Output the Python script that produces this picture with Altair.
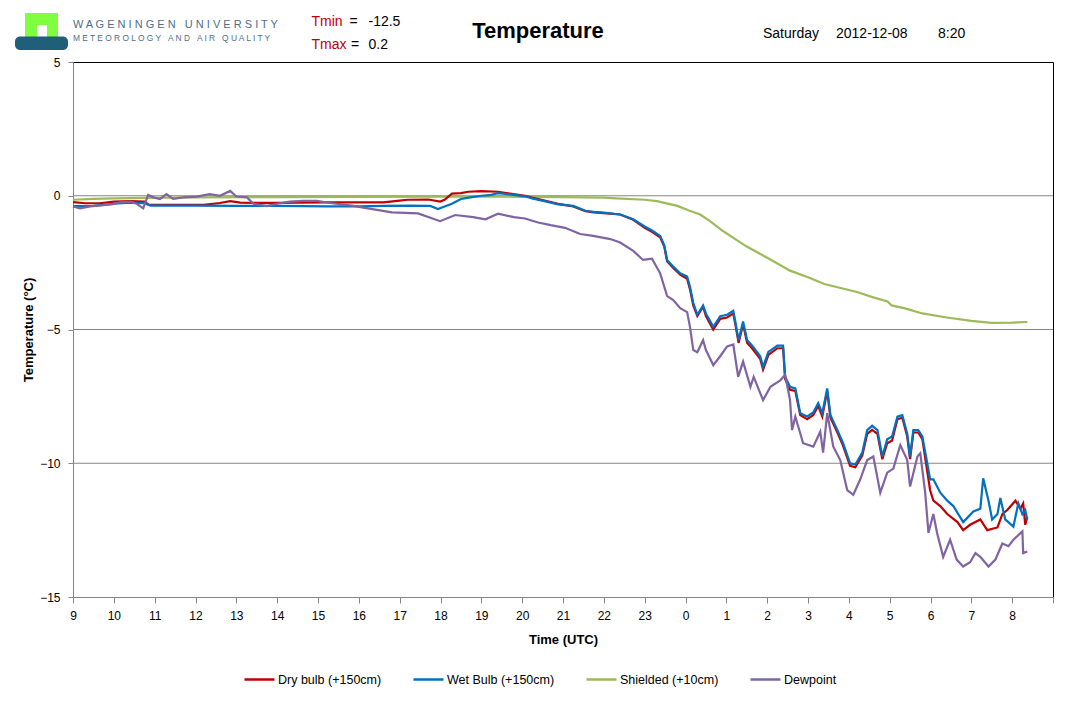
import pandas as pd
import altair as alt

FONT = "Liberation Sans"

# plot area origin on the page (used for the header / logo pieces)
X0, Y0 = 73, 62
PLOT_W, PLOT_H = 980, 535

# (hours after 09:00 UTC, temperature degC)
dry_bulb = [
    (0, -0.24), (0.3, -0.28), (0.66, -0.28), (1.0, -0.22), (1.4, -0.2), (1.75, -0.22),
    (1.85, -0.33), (2.5, -0.34), (3.2, -0.34), (3.6, -0.27), (3.85, -0.2), (4.1, -0.26),
    (4.5, -0.27), (5.0, -0.27), (5.5, -0.26), (6.2, -0.25), (7.0, -0.25), (7.6, -0.25),
    (8.0, -0.18), (8.2, -0.15), (8.7, -0.14), (8.99, -0.22), (9.1, -0.15), (9.28, 0.08),
    (9.5, 0.1), (9.68, 0.15), (10.0, 0.17), (10.41, 0.15), (10.7, 0.08), (11.07, 0.0),
    (11.24, -0.07), (11.6, -0.2), (11.88, -0.3), (12.0, -0.33), (12.25, -0.4), (12.55, -0.58),
    (12.75, -0.62), (13.0, -0.65), (13.4, -0.7), (13.72, -0.9), (14.0, -1.2), (14.18, -1.35),
    (14.38, -1.55), (14.48, -1.9), (14.55, -2.45), (14.7, -2.7), (14.87, -2.95), (15.04, -3.1),
    (15.11, -3.5), (15.19, -4.1), (15.29, -4.5), (15.43, -4.15), (15.5, -4.5), (15.68, -5.0),
    (15.85, -4.6), (16.02, -4.55), (16.17, -4.4), (16.22, -4.8), (16.3, -5.5), (16.41, -4.8),
    (16.51, -5.5), (16.63, -5.7), (16.83, -6.1), (16.9, -6.5), (17.03, -5.95), (17.25, -5.7),
    (17.39, -5.7), (17.44, -6.85), (17.56, -7.25), (17.69, -7.3), (17.81, -8.2), (17.98, -8.35),
    (18.13, -8.2), (18.25, -7.85), (18.35, -8.25), (18.47, -7.3), (18.55, -8.3), (18.72, -8.85),
    (18.86, -9.35), (19.03, -10.1), (19.16, -10.15), (19.33, -9.7), (19.45, -8.9), (19.57, -8.75),
    (19.7, -8.9), (19.82, -9.85), (19.94, -9.25), (20.06, -9.15), (20.19, -8.35), (20.31, -8.3),
    (20.43, -9.0), (20.5, -9.85), (20.58, -8.85), (20.7, -8.85), (20.8, -9.1), (20.92, -10.3),
    (20.99, -11.0), (21.07, -11.4), (21.24, -11.6), (21.41, -11.9), (21.66, -12.2), (21.8, -12.5),
    (21.97, -12.3), (22.22, -12.1), (22.39, -12.5), (22.64, -12.4), (22.76, -11.9), (22.88, -11.75),
    (23.08, -11.4), (23.2, -11.7), (23.27, -11.5), (23.32, -12.3), (23.37, -12.0),
]

wet_bulb = [
    (0, -0.39), (0.5, -0.38), (1.0, -0.3), (1.4, -0.26), (1.75, -0.28), (1.9, -0.37),
    (3.0, -0.37), (4.0, -0.38), (5.0, -0.38), (6.2, -0.4), (7.0, -0.4), (7.6, -0.38),
    (8.2, -0.37), (8.75, -0.38), (8.94, -0.5), (9.1, -0.4), (9.28, -0.3), (9.5, -0.12),
    (9.77, -0.05), (10.0, 0.0), (10.2, 0.02), (10.41, 0.1), (10.7, 0.05), (11.07, -0.02),
    (11.24, -0.1), (11.6, -0.22), (11.88, -0.32), (12.0, -0.34), (12.25, -0.38), (12.55, -0.56),
    (12.75, -0.6), (13.0, -0.63), (13.4, -0.7), (13.72, -0.88), (14.0, -1.15), (14.18, -1.3),
    (14.38, -1.5), (14.48, -1.85), (14.55, -2.4), (14.7, -2.65), (14.87, -2.9), (15.04, -3.02),
    (15.11, -3.4), (15.19, -4.0), (15.29, -4.45), (15.43, -4.1), (15.5, -4.4), (15.68, -4.9),
    (15.85, -4.5), (16.02, -4.45), (16.17, -4.3), (16.22, -4.7), (16.3, -5.4), (16.41, -4.7),
    (16.51, -5.4), (16.63, -5.6), (16.83, -6.0), (16.9, -6.4), (17.03, -5.84), (17.25, -5.6),
    (17.39, -5.6), (17.44, -6.77), (17.56, -7.14), (17.69, -7.2), (17.81, -8.13), (17.98, -8.25),
    (18.13, -8.1), (18.25, -7.75), (18.35, -8.13), (18.47, -7.2), (18.55, -8.2), (18.72, -8.76),
    (18.86, -9.25), (19.03, -10.0), (19.16, -10.05), (19.33, -9.6), (19.45, -8.76), (19.57, -8.6),
    (19.7, -8.76), (19.82, -9.75), (19.94, -9.1), (20.06, -9.0), (20.19, -8.26), (20.31, -8.2),
    (20.43, -8.9), (20.5, -9.75), (20.58, -8.76), (20.7, -8.76), (20.8, -9.0), (20.92, -10.0),
    (20.99, -10.6), (21.07, -10.6), (21.24, -11.1), (21.41, -11.4), (21.56, -11.6), (21.8, -12.2),
    (22.05, -11.8), (22.22, -11.7), (22.29, -10.56), (22.42, -11.4), (22.51, -12.1), (22.64, -11.9),
    (22.71, -11.3), (22.83, -12.1), (23.03, -12.37), (23.15, -11.5), (23.25, -11.9), (23.32, -11.75),
    (23.37, -12.1),
]

shielded = [
    (0, -0.15), (0.5, -0.12), (1.0, -0.1), (1.8, -0.08), (3.0, -0.06), (5.0, -0.05),
    (7.0, -0.04), (9.0, -0.03), (10.0, -0.03), (11.0, -0.04), (12.0, -0.05), (13.0, -0.07),
    (13.3, -0.1), (14.0, -0.15), (14.3, -0.2), (14.8, -0.38), (15.1, -0.56), (15.36, -0.7),
    (15.6, -0.95), (15.9, -1.3), (16.2, -1.6), (16.5, -1.9), (16.8, -2.15), (17.1, -2.4),
    (17.56, -2.8), (18.0, -3.05), (18.4, -3.3), (18.8, -3.45), (19.2, -3.6), (19.6, -3.8),
    (19.95, -3.95), (20.05, -4.1), (20.4, -4.22), (20.8, -4.4), (21.4, -4.55), (22.0, -4.68),
    (22.5, -4.75), (23.0, -4.74), (23.37, -4.72),
]

dewpoint = [
    (0, -0.4), (0.17, -0.47), (0.42, -0.4), (0.74, -0.35), (0.98, -0.31), (1.15, -0.25),
    (1.4, -0.22), (1.56, -0.3), (1.72, -0.47), (1.84, 0.03), (1.97, -0.06), (2.13, -0.12),
    (2.29, 0.06), (2.45, -0.12), (2.7, -0.06), (3.03, -0.03), (3.35, 0.06), (3.6, 0.0),
    (3.85, 0.18), (4.0, -0.03), (4.26, -0.06), (4.42, -0.3), (4.75, -0.39), (5.0, -0.3),
    (5.31, -0.22), (5.64, -0.19), (5.97, -0.19), (6.3, -0.27), (6.83, -0.37), (7.33, -0.5),
    (7.81, -0.62), (8.45, -0.66), (8.99, -0.95), (9.36, -0.72), (9.8, -0.8), (10.1, -0.88),
    (10.41, -0.67), (10.8, -0.8), (11.07, -0.85), (11.39, -1.0), (11.7, -1.1), (12.05, -1.2),
    (12.42, -1.43), (12.74, -1.5), (13.16, -1.62), (13.4, -1.75), (13.72, -2.06), (13.96, -2.4),
    (14.18, -2.35), (14.38, -2.9), (14.55, -3.75), (14.7, -3.9), (14.87, -4.2), (15.04, -4.35),
    (15.11, -4.9), (15.19, -5.77), (15.29, -5.85), (15.43, -5.4), (15.5, -5.77), (15.68, -6.33),
    (15.85, -6.0), (16.02, -5.63), (16.17, -5.56), (16.29, -6.77), (16.41, -6.2), (16.59, -7.14),
    (16.67, -6.77), (16.9, -7.64), (17.08, -7.14), (17.32, -6.9), (17.44, -6.7), (17.56, -7.64),
    (17.61, -8.76), (17.69, -8.25), (17.88, -9.25), (18.13, -9.38), (18.3, -8.82), (18.37, -9.6),
    (18.47, -8.13), (18.62, -9.38), (18.79, -9.88), (18.96, -11.0), (19.11, -11.18), (19.28, -10.6),
    (19.45, -9.88), (19.6, -9.75), (19.77, -11.1), (19.94, -10.35), (20.09, -10.2), (20.26, -9.32),
    (20.43, -9.88), (20.5, -10.87), (20.68, -9.75), (20.75, -9.63), (20.87, -11.1), (20.95, -12.6),
    (21.07, -11.9), (21.16, -12.6), (21.31, -13.5), (21.48, -12.86), (21.64, -13.6), (21.8, -13.86),
    (21.97, -13.7), (22.1, -13.36), (22.22, -13.5), (22.42, -13.86), (22.59, -13.6), (22.76, -13.0),
    (22.91, -13.1), (23.03, -12.86), (23.25, -12.55), (23.27, -13.36), (23.37, -13.3),
]

series_names = ["Dry bulb (+150cm)", "Wet Bulb (+150cm)", "Shielded (+10cm)", "Dewpoint"]
series_colors = ["#c00000", "#0070c0", "#9bbb59", "#8064a2"]
hour_ticks = list(range(0, 25))
temp_ticks = [-15, -10, -5, 0, 5]
grid_levels = [-10, -5, 0]
header_date = ["Saturday", "2012-12-08", "8:20"]


def init_data():
    # draw order: shielded at the bottom, dewpoint on top
    order = [(2, shielded), (0, dry_bulb), (1, wet_bulb), (3, dewpoint)]
    frames = []
    for i, pts in order:
        df = pd.DataFrame(pts, columns=["hour", "temp"])
        df["series"] = series_names[i]
        frames.append(df)
    return pd.concat(frames, ignore_index=True)


one = pd.DataFrame({"k": [0]})


def spaced(s):
    # letter-spaced caps; word gaps kept with no-break spaces (svg collapses runs)
    return "\u00a0\u00a0\u00a0".join(" ".join(w) for w in s.split())


def text(t, x, y, size=14, color="black", weight="normal", align="left"):
    return alt.Chart(one).mark_text(
        text=t, font=FONT, fontSize=size, color=color, fontWeight=weight,
        align=align, baseline="alphabetic"
    ).encode(x=alt.value(x - X0), y=alt.value(y - Y0))


def box(x1, x2, y1, y2, color, radius=0):
    return alt.Chart(one).mark_rect(color=color, cornerRadius=radius).encode(
        x=alt.value(x1 - X0), x2=alt.value(x2 - X0),
        y=alt.value(y1 - Y0), y2=alt.value(y2 - Y0)
    )


def draw(data):
    gray = "#868686"
    xscale = alt.Scale(domain=[0, 24], nice=False, zero=False)
    yscale = alt.Scale(domain=[-15, 5], nice=False, zero=False)

    grid = alt.Chart(pd.DataFrame({"temp": grid_levels})).mark_rule(
        color=gray, strokeWidth=1
    ).encode(y=alt.Y("temp:Q", scale=yscale))

    lines = alt.Chart(data).mark_line(strokeWidth=2.2).encode(
        x=alt.X("hour:Q", scale=xscale,
                axis=alt.Axis(values=hour_ticks, grid=False, title="Time (UTC)",
                              labelExpr="datum.value < 24 ? '' + ((datum.value + 9) % 24) : ''",
                              labelFlush=False, labelOverlap=False,
                              tickSize=6, labelPadding=7,
                              titleFontWeight="bold", titleFontSize=13,
                              titleBaseline="middle", titleY=42)),
        y=alt.Y("temp:Q", scale=yscale,
                axis=alt.Axis(values=temp_ticks, grid=False, title="Temperature (°C)",
                              tickSize=5, labelPadding=8,
                              titleFontWeight="bold", titleFontSize=13,
                              titleAngle=270, titleAlign="center", titleBaseline="middle",
                              titleX=-45, titleY=PLOT_H / 2)),
        color=alt.Color("series:N",
                        scale=alt.Scale(domain=series_names, range=series_colors),
                        legend=alt.Legend(title=None, orient="none", direction="horizontal",
                                          legendX=170, legendY=601,
                                          symbolType="stroke", symbolSize=900,
                                          symbolStrokeWidth=2.5, labelFont=FONT,
                                          labelFontSize=12.5, labelOffset=2,
                                          columnPadding=26, padding=0)),
    )

    tmin = min(v for _, v in dry_bulb)
    tmax = max(v for _, v in dry_bulb)
    blue = "#4d6e8a"
    header = [
        # logo: green gate on a teal wave
        box(25, 58, 13, 40, "#7fff3f"),
        box(37, 47, 25, 40, "white"),
        box(15, 68, 36.5, 50, "#1f5f7a", radius=5),
        text(spaced("WAGENINGEN UNIVERSITY"), 73, 28, size=11, color=blue),
        text(spaced("METEOROLOGY AND AIR QUALITY"), 73, 40.5, size=8.4, color=blue),
        text("Tmin", 311.5, 26, color="#c00000"),
        text("=", 349.5, 26),
        text(f"{tmin:.1f}", 368.5, 26),
        text("Tmax", 311.5, 48.5, color="#c00000"),
        text("=", 351, 48.5),
        text(f"{tmax:.1f}", 368.5, 48.5),
        text("Temperature", 538, 38, size=22, weight="bold", align="center"),
        text(header_date[0], 763, 38),
        text(header_date[1], 836, 38),
        text(header_date[2], 938, 38),
    ]

    chart = alt.layer(grid, lines, *header).properties(
        width=PLOT_W, height=PLOT_H,
        padding={"left": 65, "top": 54, "right": 13, "bottom": 97},
        autosize=alt.AutoSizeParams(type="none"),
        background="white",
    ).configure(font=FONT).configure_view(
        stroke="black", strokeWidth=1
    ).configure_axis(
        domainColor=gray, tickColor=gray, labelColor="black", titleColor="black",
        labelFont=FONT, labelFontSize=12, titleFont=FONT
    )
    return chart


def main():
    data = init_data()
    chart = draw(data)
    chart.save("out.html", embed_options={"renderer": "svg", "actions": False})


if __name__ == "__main__":
    main()
